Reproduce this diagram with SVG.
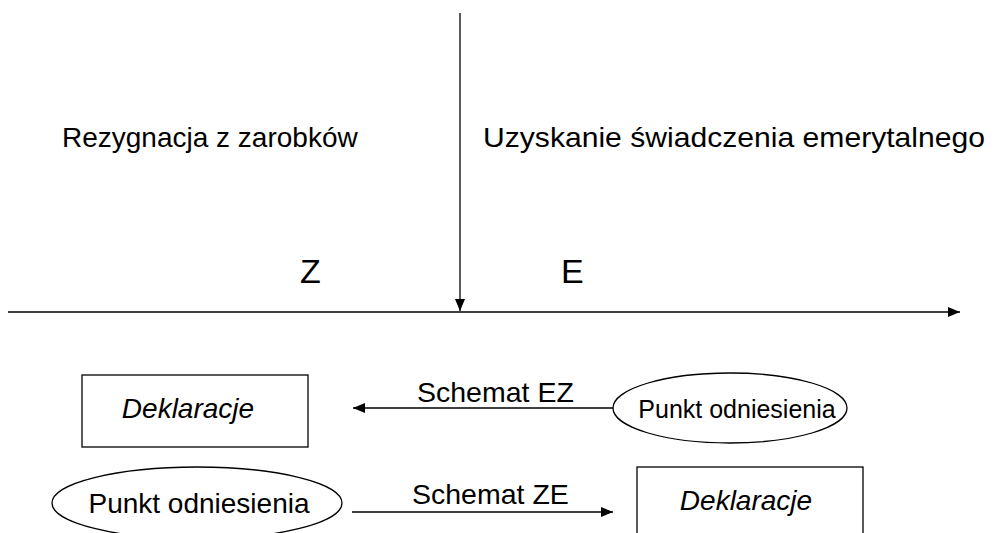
<svg xmlns="http://www.w3.org/2000/svg" width="1000" height="533" viewBox="0 0 1000 533">
  <style>
    text { font-family: "Liberation Sans", Arial, sans-serif; fill: #000; }
    .head { font-size: 28px; }
    .axis-label { font-size: 34px; }
    .node-label { font-size: 28px; }
    .node-label.em { font-style: italic; }
    .node-label.small { font-size: 25px; }
    .edge-label { font-size: 28.5px; }
    .shape { fill: #fff; stroke: #000; stroke-width: 1.3; }
    .line { fill: none; stroke: #000; stroke-width: 1.3; }
  </style>
  <defs>
    <marker id="arrow" viewBox="0 0 12 10" refX="12" refY="5" markerWidth="12" markerHeight="10" markerUnits="userSpaceOnUse" orient="auto">
      <path d="M0,0 L12,5 L0,10 Z" fill="#000"/>
    </marker>
  </defs>

  <!-- axes and the two scheme arrows -->
  <g id="connectors">
    <line class="line" x1="460" y1="13" x2="460" y2="311" marker-end="url(#arrow)"/>
    <line class="line" x1="8" y1="312" x2="960" y2="312" marker-end="url(#arrow)"/>
    <line class="line" x1="613" y1="408" x2="353" y2="408" marker-end="url(#arrow)"/>
    <line class="line" x1="352" y1="512" x2="613" y2="512" marker-end="url(#arrow)"/>
    <text class="edge-label" x="417" y="402">Schemat EZ</text>
    <text class="edge-label" x="412" y="504">Schemat ZE</text>
  </g>

  <!-- side captions -->
  <g id="zarobki">
    <text class="head" x="62" y="147">Rezygnacja z zarobków</text>
    <text class="axis-label" x="300" y="283">Z</text>
  </g>
  <g id="emerytura">
    <text class="head" x="483" y="147" textLength="502" lengthAdjust="spacingAndGlyphs">Uzyskanie świadczenia emerytalnego</text>
    <text class="axis-label" x="561" y="283">E</text>
  </g>

  <!-- EZ row -->
  <g id="deklaracje-ez">
    <rect class="shape" x="82" y="375" width="226" height="72"/>
    <text class="node-label em" x="188" y="418" text-anchor="middle">Deklaracje</text>
  </g>
  <g id="punkt-ez">
    <ellipse class="shape" cx="730" cy="408" rx="117" ry="35"/>
    <text class="node-label small" x="737" y="418" text-anchor="middle">Punkt odniesienia</text>
  </g>

  <!-- ZE row -->
  <g id="punkt-ze">
    <ellipse class="shape" cx="197" cy="503" rx="145" ry="36"/>
    <text class="node-label" x="199" y="513" text-anchor="middle">Punkt odniesienia</text>
  </g>
  <g id="deklaracje-ze">
    <rect class="shape" x="637" y="467" width="226" height="80"/>
    <text class="node-label em" x="746" y="510" text-anchor="middle">Deklaracje</text>
  </g>
</svg>
